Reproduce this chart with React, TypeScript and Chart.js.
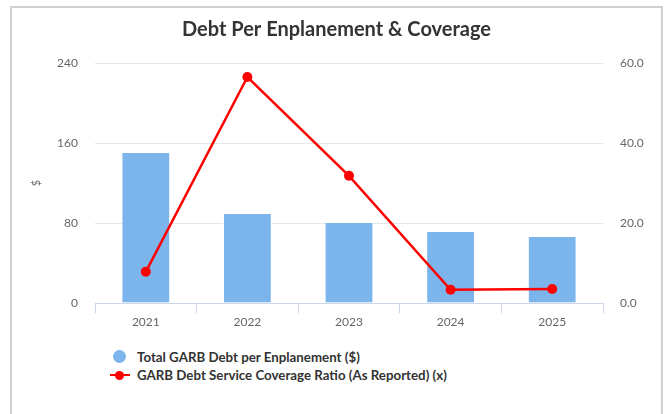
import React, { useEffect, useRef } from "react";
import { Chart, registerables } from "chart.js";

Chart.register(...registerables);

const categories = ["2021", "2022", "2023", "2024", "2025"];
const debtPerEnplanement = [151, 90, 81, 72, 67];
const coverageRatio = [7.8, 56.5, 31.8, 3.3, 3.5];
const leftTicks = [0, 80, 160, 240];
const rightTicks = [0, 20, 40, 60];

const barLabel = "Total GARB Debt per Enplanement ($)";
const lineLabel = "GARB Debt Service Coverage Ratio (As Reported) (x)";

const FONT = "Lato, 'Open Sans', sans-serif";

export default function App() {
  const ref = useRef<HTMLCanvasElement | null>(null);

  useEffect(() => {
    if (!ref.current) return;
    const chart = new Chart(ref.current, {
      type: "bar",
      data: {
        labels: categories,
        datasets: [
          {
            type: "bar",
            label: barLabel,
            data: debtPerEnplanement,
            backgroundColor: "#7cb5ec",
            borderColor: "#ffffff",
            borderWidth: 1,
            barPercentage: 0.48,
            categoryPercentage: 1,
            yAxisID: "y",
            order: 1,
          },
          {
            type: "line",
            label: lineLabel,
            data: coverageRatio,
            borderColor: "#ff0000",
            backgroundColor: "#ff0000",
            borderWidth: 2.5,
            pointRadius: 5,
            pointBackgroundColor: "#ff0000",
            pointBorderWidth: 0,
            yAxisID: "y1",
            order: 0,
          } as any,
        ],
      },
      options: {
        animation: false,
        responsive: false,
        maintainAspectRatio: false,
        layout: { padding: 0 },
        plugins: {
          legend: { display: false },
          tooltip: { enabled: false },
          title: {
            display: true,
            text: "Debt Per Enplanement & Coverage",
            color: "#333333",
            font: { family: FONT, size: 20, weight: "bold" },
            padding: { top: 10, bottom: 21 },
          },
        },
        scales: {
          x: {
            offset: true,
            grid: {
              display: true,
              offset: true,
              drawOnChartArea: false,
              drawTicks: true,
              tickLength: 10,
              color: "#ccd6eb",
            },
            border: { display: true, color: "#ccd6eb", width: 1 },
            ticks: {
              color: "#666666",
              font: { family: FONT, size: 12 },
              padding: 2,
            },
            afterFit: (s: any) => {
              s.height = 35;
            },
          },
          y: {
            position: "left",
            min: 0,
            max: 240,
            afterBuildTicks: (s: any) => {
              s.ticks = leftTicks.map((v) => ({ value: v }));
            },
            grid: { color: "#e6e6e6", drawTicks: false, lineWidth: 1 },
            border: { display: false },
            ticks: {
              color: "#666666",
              font: { family: FONT, size: 12 },
              padding: 17,
            },
            title: {
              display: true,
              text: "$",
              color: "#666666",
              font: { family: FONT, size: 11 },
              padding: { top: 18, bottom: 0 },
            },
            afterFit: (s: any) => {
              s.width = 83;
            },
          },
          y1: {
            position: "right",
            min: 0,
            max: 60,
            afterBuildTicks: (s: any) => {
              s.ticks = rightTicks.map((v) => ({ value: v }));
            },
            grid: { display: false, drawOnChartArea: false },
            border: { display: false },
            ticks: {
              color: "#666666",
              font: { family: FONT, size: 12 },
              padding: 9,
              callback: (v: any) => Number(v).toFixed(1),
            },
            afterFit: (s: any) => {
              s.width = 58;
            },
          },
        },
      },
    });
    return () => chart.destroy();
  }, []);

  const legendText: React.CSSProperties = {
    fontFamily: FONT,
    fontWeight: "bold",
    fontSize: 13.3,
    color: "#333333",
    position: "absolute",
    left: 125,
    lineHeight: "16px",
    whiteSpace: "nowrap",
  };

  return (
    <div
      style={{
        position: "absolute",
        left: 10,
        top: 6,
        width: 649,
        height: 420,
        border: "2px solid #d0d0d0",
        background: "#ffffff",
      }}
    >
      <canvas ref={ref} width={649} height={330} style={{ display: "block" }} />
      <div
        style={{
          position: "absolute",
          left: 101,
          top: 342,
          width: 13,
          height: 13,
          borderRadius: "50%",
          background: "#7cb5ec",
        }}
      />
      <div style={{ ...legendText, top: 341 }}>{barLabel}</div>
      <div
        style={{
          position: "absolute",
          left: 98,
          top: 366,
          width: 20,
          height: 2,
          background: "#ff0000",
        }}
      />
      <div
        style={{
          position: "absolute",
          left: 103,
          top: 362.5,
          width: 9,
          height: 9,
          borderRadius: "50%",
          background: "#ff0000",
        }}
      />
      <div style={{ ...legendText, top: 359 }}>{lineLabel}</div>
    </div>
  );
}
